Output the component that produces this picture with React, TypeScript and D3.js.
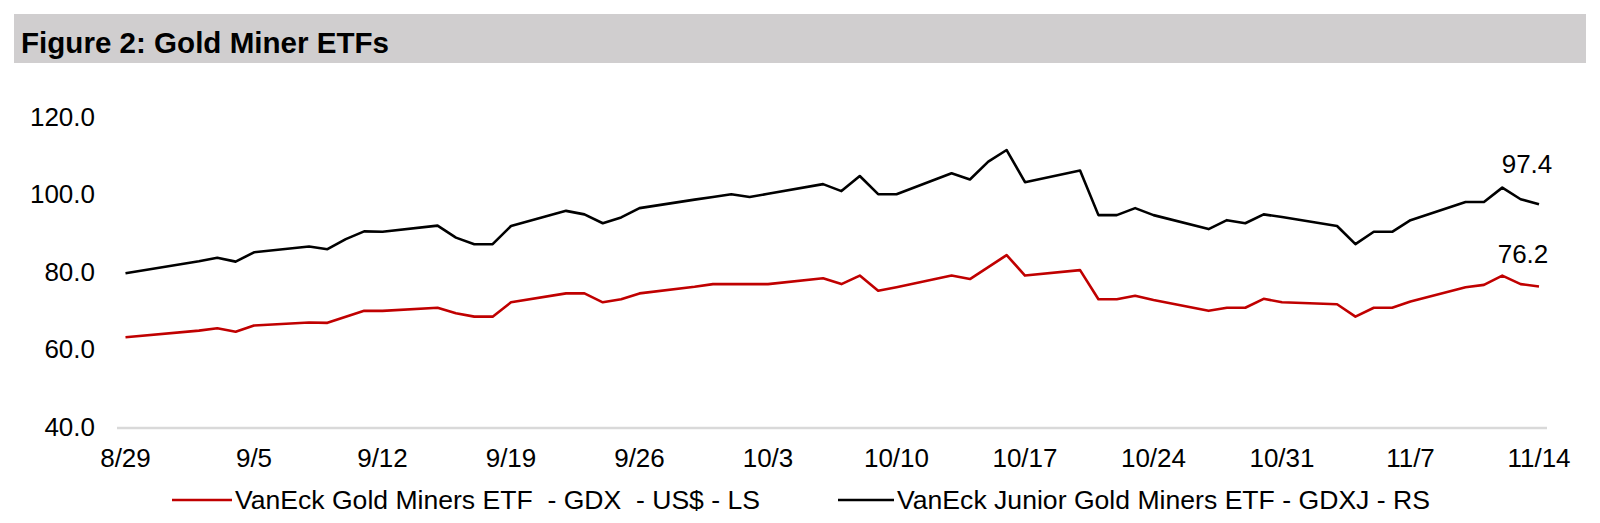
import React from "react";
import * as d3 from "d3";

const dates = [
  "2025-08-29",
  "2025-09-02", "2025-09-03", "2025-09-04", "2025-09-05",
  "2025-09-08", "2025-09-09", "2025-09-10", "2025-09-11", "2025-09-12",
  "2025-09-15", "2025-09-16", "2025-09-17", "2025-09-18", "2025-09-19",
  "2025-09-22", "2025-09-23", "2025-09-24", "2025-09-25", "2025-09-26",
  "2025-09-29", "2025-09-30", "2025-10-01", "2025-10-02", "2025-10-03",
  "2025-10-06", "2025-10-07", "2025-10-08", "2025-10-09", "2025-10-10",
  "2025-10-13", "2025-10-14", "2025-10-15", "2025-10-16", "2025-10-17",
  "2025-10-20", "2025-10-21", "2025-10-22", "2025-10-23", "2025-10-24",
  "2025-10-27", "2025-10-28", "2025-10-29", "2025-10-30", "2025-10-31",
  "2025-11-03", "2025-11-04", "2025-11-05", "2025-11-06", "2025-11-07",
  "2025-11-10", "2025-11-11", "2025-11-12", "2025-11-13", "2025-11-14",
];

const gdxj = [
  79.6,
  82.7, 83.6, 82.6, 85.0,
  86.5, 85.8, 88.4, 90.4, 90.3,
  91.9, 88.8, 87.1, 87.1, 91.8,
  95.7, 94.8, 92.5, 94.0, 96.4,
  98.6, 99.3, 100.0, 99.3, 100.1,
  102.6, 100.8, 104.7, 100.0, 100.0,
  105.4, 103.8, 108.4, 111.4, 103.1,
  106.1, 94.6, 94.6, 96.4, 94.6,
  91.0, 93.3, 92.5, 94.8, 94.1,
  91.8, 87.1, 90.3, 90.3, 93.3,
  98.0, 98.0, 101.7, 98.7, 97.4,
];

const gdx = [
  63.1,
  64.8, 65.4, 64.5, 66.1,
  66.9, 66.8, 68.4, 69.9, 69.9,
  70.7, 69.3, 68.4, 68.4, 72.1,
  74.4, 74.4, 72.1, 72.9, 74.4,
  76.1, 76.8, 76.8, 76.8, 76.8,
  78.3, 76.8, 79.0, 75.1, 76.0,
  79.0, 78.1, 81.2, 84.3, 79.0,
  80.4, 72.9, 72.9, 73.8, 72.7,
  69.9, 70.7, 70.7, 73.0, 72.1,
  71.6, 68.4, 70.7, 70.7, 72.3,
  76.0, 76.6, 79.0, 76.8, 76.2,
];

const yTicks = [40, 60, 80, 100, 120];
const title = "Figure 2: Gold Miner ETFs";
const seriesNames = [
  "VanEck Gold Miners ETF  - GDX  - US$ - LS",
  "VanEck Junior Gold Miners ETF - GDXJ - RS",
];

const W = 1600;
const H = 523;
const FONT = "'Liberation Sans', Arial, Helvetica, sans-serif";
const RED = "#c00000";

export default function App() {
  const parse = d3.timeParse("%Y-%m-%d");
  const xs = dates.map((d) => parse(d) as Date);
  const x = d3
    .scaleTime()
    .domain([xs[0], xs[xs.length - 1]])
    .range([125.5, 1539]);
  const y = d3.scaleLinear().domain([40, 120]).range([426.7, 116.7]);
  const fmt = d3.timeFormat("%-m/%-d");
  const xTicks = d3.timeFriday.range(xs[0], d3.timeDay.offset(xs[xs.length - 1], 1));

  const line = d3
    .line<number>()
    .x((_, i) => x(xs[i]))
    .y((v) => y(v));

  const last = xs.length - 1;
  const lx = x(xs[last]);

  return (
    <svg
      width={W}
      height={H}
      style={{ position: "absolute", left: 0, top: 0, background: "#fff" }}
      fontFamily={FONT}
    >
      <rect x={0} y={0} width={W} height={H} fill="#fff" />
      <rect x={14} y={14} width={1572} height={49} fill="#d0cecf" />
      <text
        x={21}
        y={53}
        fontSize={29.5}
        fontWeight="bold"
        fill="#000"
        textLength={368}
        lengthAdjust="spacingAndGlyphs"
      >
        {title}
      </text>

      {yTicks.map((t) => (
        <text
          key={t}
          x={95}
          y={y(t) + 9}
          fontSize={26}
          textAnchor="end"
          fill="#000"
        >
          {t.toFixed(1)}
        </text>
      ))}

      <line
        x1={117}
        x2={1547}
        y1={y(40) + 1.3}
        y2={y(40) + 1.3}
        stroke="#d9d9d9"
        strokeWidth={2.6}
      />

      {xTicks.map((t) => (
        <text
          key={+t}
          x={x(t)}
          y={467}
          fontSize={26}
          textAnchor="middle"
          fill="#000"
        >
          {fmt(t)}
        </text>
      ))}

      <path
        d={line(gdxj) || ""}
        fill="none"
        stroke="#000"
        strokeWidth={2.6}
        strokeLinejoin="round"
      />
      <path
        d={line(gdx) || ""}
        fill="none"
        stroke={RED}
        strokeWidth={2.6}
        strokeLinejoin="round"
      />

      <text x={lx - 12} y={y(gdxj[last]) - 31.5} fontSize={26} textAnchor="middle" fill="#000">
        {gdxj[last].toFixed(1)}
      </text>
      <text x={lx - 16} y={y(gdx[last]) - 23.7} fontSize={26} textAnchor="middle" fill="#000">
        {gdx[last].toFixed(1)}
      </text>

      <line x1={172} x2={232} y1={500} y2={500} stroke={RED} strokeWidth={2.6} />
      <text
        x={235}
        y={509}
        fontSize={26}
        fill="#000"
        textLength={525}
        lengthAdjust="spacingAndGlyphs"
        style={{ whiteSpace: "pre" }}
      >
        {seriesNames[0]}
      </text>
      <line x1={838} x2={894} y1={500} y2={500} stroke="#000" strokeWidth={2.6} />
      <text
        x={897}
        y={509}
        fontSize={26}
        fill="#000"
        textLength={533}
        lengthAdjust="spacingAndGlyphs"
        style={{ whiteSpace: "pre" }}
      >
        {seriesNames[1]}
      </text>
    </svg>
  );
}
